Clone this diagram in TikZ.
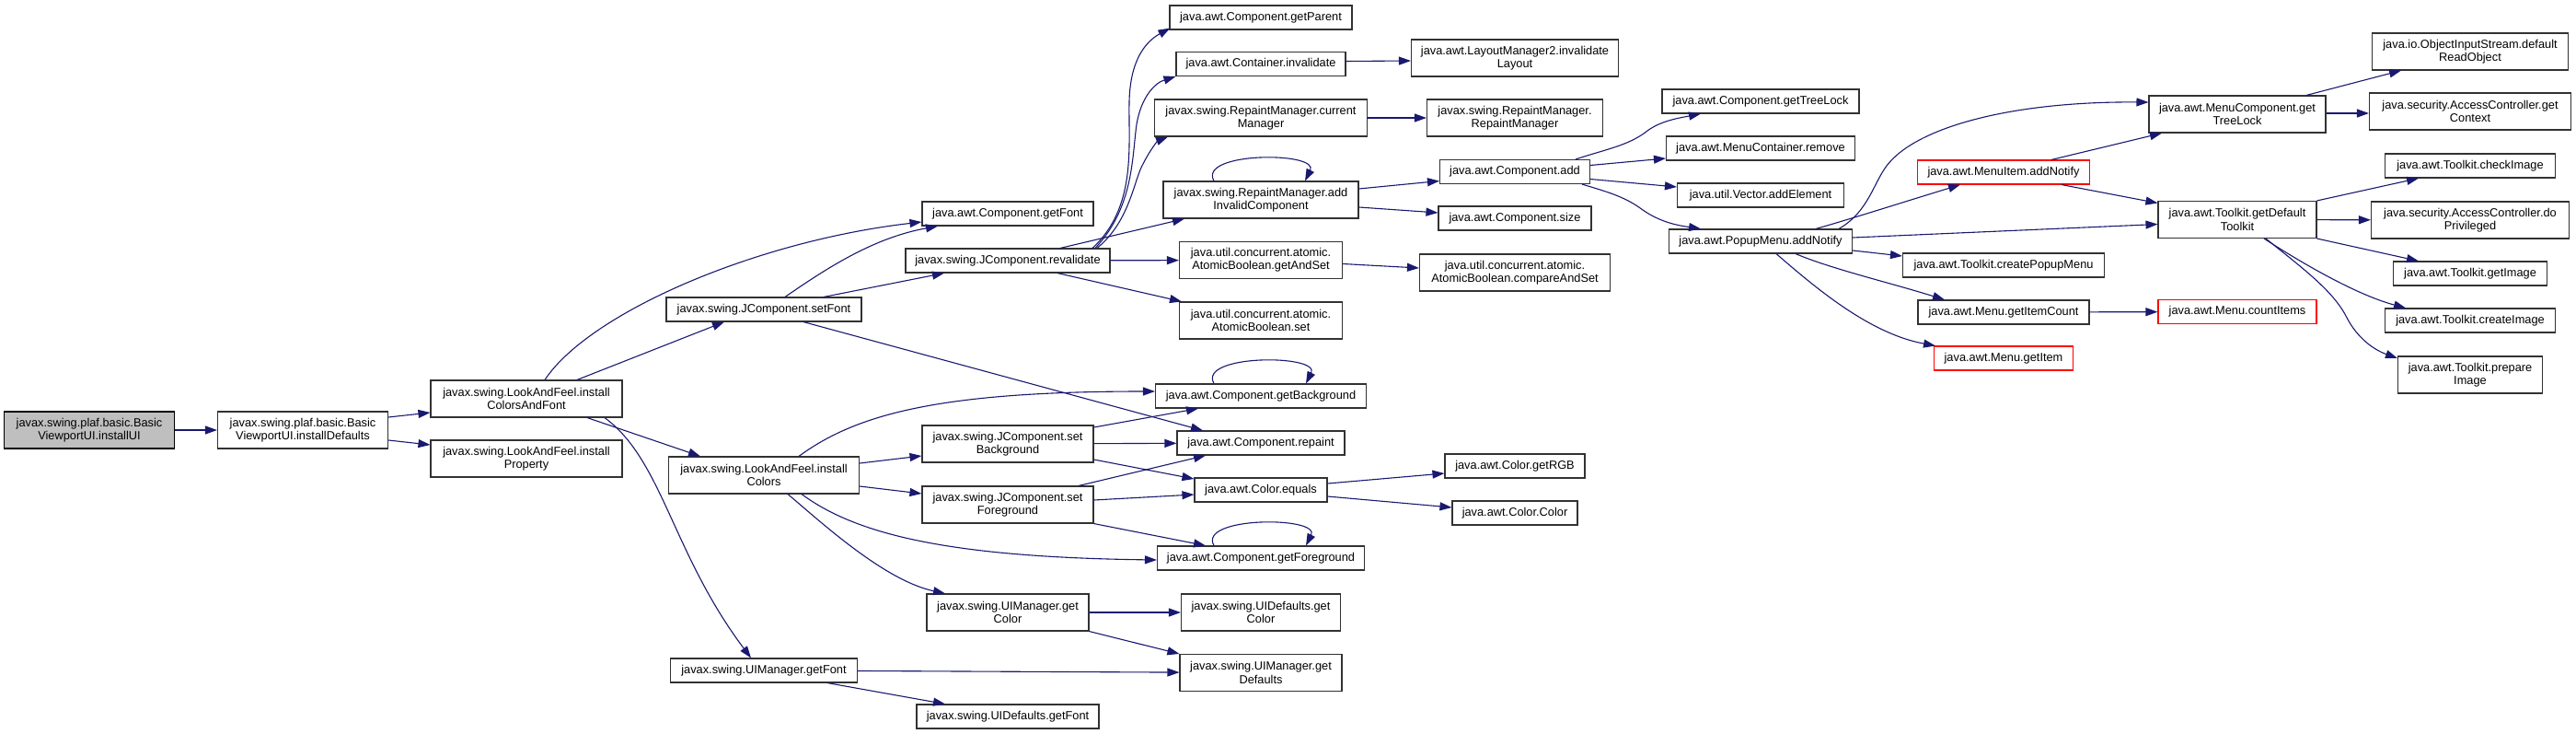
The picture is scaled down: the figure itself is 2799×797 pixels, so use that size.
\documentclass[tikz,border=0pt]{standalone}
\usepackage{fontspec}
\setmainfont{Liberation Sans}
\usetikzlibrary{arrows.meta}
\definecolor{edgeblue}{RGB}{25,25,112}
\definecolor{boxline}{RGB}{50,50,50}

\begin{document}
\begin{tikzpicture}[
  x=1pt, y=-1pt,
  font=\fontsize{12.8pt}{14.3pt}\selectfont,
  box/.style={rectangle, draw=boxline, line width=1.1pt, fill=white,
              minimum height=26pt, inner sep=0pt, align=center},
  tall/.style={minimum height=40pt},
  startbox/.style={fill=black!25, draw=black},
  redbox/.style={draw=red},
  arr/.style={-{Triangle[length=13pt,width=9pt]}, draw=edgeblue, line width=1.1pt}
]
  \useasboundingbox (0,0) rectangle (2799,797);

  \node[box, tall, startbox, minimum width=185pt] (installui) at (97,467) {javax.swing.plaf.basic.Basic\\ViewportUI.installUI};
  \node[box, tall, minimum width=185pt] (defaults) at (329,467) {javax.swing.plaf.basic.Basic\\ViewportUI.installDefaults};
  \node[box, tall, minimum width=208pt] (lafcf) at (572,433) {javax.swing.LookAndFeel.install\\ColorsAndFont};
  \node[box, tall, minimum width=208pt] (lafprop) at (572,498) {javax.swing.LookAndFeel.install\\Property};

  \node[box, minimum width=212pt] (setfont) at (830,336) {javax.swing.JComponent.setFont};
  \node[box, tall, minimum width=207pt] (lafcolors) at (830,516) {javax.swing.LookAndFeel.install\\Colors};
  \node[box, minimum width=203pt] (uimfont) at (830,728) {javax.swing.UIManager.getFont};

  \node[box, minimum width=186pt] (getfont) at (1095,232) {java.awt.Component.getFont};
  \node[box, minimum width=222pt] (revalidate) at (1095,283) {javax.swing.JComponent.revalidate};
  \node[box, tall, minimum width=186pt] (setbg) at (1095,482) {javax.swing.JComponent.set\\Background};
  \node[box, tall, minimum width=186pt] (setfg) at (1095,548) {javax.swing.JComponent.set\\Foreground};
  \node[box, tall, minimum width=176pt] (uimcolor) at (1095,665) {javax.swing.UIManager.get\\Color};
  \node[box, minimum width=198pt] (uidfont) at (1095,778) {javax.swing.UIDefaults.getFont};

  \node[box, minimum width=198pt] (getparent) at (1370,19) {java.awt.Component.getParent};
  \node[box, minimum width=184pt] (cinval) at (1370,69.5) {java.awt.Container.invalidate};
  \node[box, tall, minimum width=231pt] (curmgr) at (1370,128) {javax.swing.RepaintManager.current\\Manager};
  \node[box, tall, minimum width=212pt] (addinv) at (1370,217) {javax.swing.RepaintManager.add\\InvalidComponent};
  \node[box, tall, minimum width=177pt] (getandset) at (1370,282.5) {java.util.concurrent.atomic.\\AtomicBoolean.getAndSet};
  \node[box, tall, minimum width=177pt] (abset) at (1370,348) {java.util.concurrent.atomic.\\AtomicBoolean.set};
  \node[box, minimum width=229pt] (getbg) at (1370,430) {java.awt.Component.getBackground};
  \node[box, minimum width=182pt] (repaint) at (1370,481) {java.awt.Component.repaint};
  \node[box, minimum width=144pt] (cequals) at (1370,532) {java.awt.Color.equals};
  \node[box, minimum width=225pt] (getfg) at (1370,606) {java.awt.Component.getForeground};
  \node[box, tall, minimum width=173pt] (uidcolor) at (1370,665) {javax.swing.UIDefaults.get\\Color};
  \node[box, tall, minimum width=176pt] (uimdefaults) at (1370,730.5) {javax.swing.UIManager.get\\Defaults};

  \node[box, tall, minimum width=225pt] (lminval) at (1646,63) {java.awt.LayoutManager2.invalidate\\Layout};
  \node[box, tall, minimum width=191pt] (rmrm) at (1646,128) {javax.swing.RepaintManager.\\RepaintManager};
  \node[box, minimum width=163pt] (compadd) at (1646,186.5) {java.awt.Component.add};
  \node[box, minimum width=166pt] (compsize) at (1646,237) {java.awt.Component.size};
  \node[box, tall, minimum width=207pt] (cas) at (1646,296) {java.util.concurrent.atomic.\\AtomicBoolean.compareAndSet};
  \node[box, minimum width=152pt] (getrgb) at (1646,506) {java.awt.Color.getRGB};
  \node[box, minimum width=136pt] (colorctor) at (1646,557) {java.awt.Color.Color};

  \node[box, minimum width=214pt] (gettreelock) at (1913,110) {java.awt.Component.getTreeLock};
  \node[box, minimum width=205pt] (mcremove) at (1913,161) {java.awt.MenuContainer.remove};
  \node[box, minimum width=181pt] (addelement) at (1913,212) {java.util.Vector.addElement};
  \node[box, minimum width=199pt] (popupnotify) at (1913,262) {java.awt.PopupMenu.addNotify};

  \node[box, redbox, minimum width=187pt] (itemnotify) at (2177,187) {java.awt.MenuItem.addNotify};
  \node[box, minimum width=219pt] (createpopup) at (2177,288) {java.awt.Toolkit.createPopupMenu};
  \node[box, minimum width=186pt] (itemcount) at (2177,339) {java.awt.Menu.getItemCount};
  \node[box, redbox, minimum width=151pt] (getitem) at (2177,389) {java.awt.Menu.getItem};

  \node[box, tall, minimum width=192pt] (mctreelock) at (2431,124) {java.awt.MenuComponent.get\\TreeLock};
  \node[box, tall, minimum width=172pt] (deftoolkit) at (2431,238.5) {java.awt.Toolkit.getDefault\\Toolkit};
  \node[box, redbox, minimum width=172pt] (countitems) at (2431,338.5) {java.awt.Menu.countItems};

  \node[box, tall, minimum width=213pt] (readobject) at (2684,56) {java.io.ObjectInputStream.default\\ReadObject};
  \node[box, tall, minimum width=219pt] (getcontext) at (2684,121) {java.security.AccessController.get\\Context};
  \node[box, minimum width=185pt] (checkimage) at (2684,180) {java.awt.Toolkit.checkImage};
  \node[box, tall, minimum width=215pt] (doprivileged) at (2684,239) {java.security.AccessController.do\\Privileged};
  \node[box, minimum width=167pt] (getimage) at (2684,297) {java.awt.Toolkit.getImage};
  \node[box, minimum width=185pt] (createimage) at (2684,348) {java.awt.Toolkit.createImage};
  \node[box, tall, minimum width=157pt] (prepareimage) at (2684,407) {java.awt.Toolkit.prepare\\Image};

  \draw[arr] (installui) -- (defaults);
  \draw[arr] ([yshift=14pt]defaults.east) -- ([yshift=-15pt]lafcf.west);
  \draw[arr] ([yshift=-11pt]defaults.east) -- ([yshift=15pt]lafprop.west);
  \draw[arr] ([xshift=20pt]lafcf.north) .. controls (640,340) and (820,262) .. ([yshift=-9pt]getfont.west);
  \draw[arr] ([xshift=55pt]lafcf.north) -- ([xshift=-43pt]setfont.south);
  \draw[arr] ([xshift=66pt]lafcf.south) -- ([xshift=-69pt]lafcolors.north);
  \draw[arr] ([xshift=85pt]lafcf.south) .. controls (720,500) and (730,600) .. ([xshift=-14pt]uimfont.north);

  \draw[arr] ([xshift=23pt]setfont.north) .. controls (900,290) and (950,258) .. ([xshift=-76pt]getfont.south);
  \draw[arr] ([xshift=65pt]setfont.north) -- ([xshift=-69pt]revalidate.south);
  \draw[arr] ([xshift=43pt]setfont.south) -- ([xshift=-63pt]repaint.north);

  \draw[arr] ([xshift=92pt]revalidate.north) .. controls (1235,225) and (1226,160) .. (1227,110)
    .. controls (1228,65) and (1245,45) .. ([xshift=1pt,yshift=2pt]getparent.south west);
  \draw[arr] ([xshift=95pt]revalidate.north) .. controls (1232,225) and (1230,170) .. (1235,135)
    .. controls (1240,105) and (1255,90) .. (cinval.south west);
  \draw[arr] ([xshift=97pt]revalidate.north) .. controls (1228,240) and (1232,195) .. (1242,178)
    .. controls (1250,162) and (1258,153) .. ([xshift=-101pt]curmgr.south);
  \draw[arr] ([xshift=57pt]revalidate.north) -- ([xshift=-83pt]addinv.south);
  \draw[arr] (revalidate) -- (getandset);
  \draw[arr] ([xshift=54pt]revalidate.south) -- ([xshift=-86pt]abset.north);

  \draw[arr] ([xshift=-51pt]addinv.north) .. controls +(-18,-32) and +(16,-32) .. ([xshift=48pt]addinv.north);
  \draw[arr] ([yshift=12pt]addinv.east) -- ([yshift=-10pt]compadd.west);
  \draw[arr] ([yshift=-8pt]addinv.east) -- ([yshift=6pt]compsize.west);
  \draw[arr] (curmgr) -- (rmrm);
  \draw[arr] ([yshift=3pt]cinval.east) -- ([yshift=-3pt]lminval.west);
  \draw[arr] ([yshift=-4pt]getandset.east) -- ([yshift=5pt]cas.west);

  \draw[arr] ([xshift=66pt]compadd.north) .. controls (1745,162) and (1770,158) .. (1790,142)
    .. controls (1805,131) and (1825,128) .. ([xshift=-65pt]gettreelock.south);
  \draw[arr] ([yshift=7pt]compadd.east) -- ([yshift=-11pt]mcremove.west);
  \draw[arr] ([yshift=-8pt]compadd.east) -- ([yshift=9pt]addelement.west);
  \draw[arr] ([xshift=73pt]compadd.south) .. controls (1745,208) and (1765,213) .. (1785,228)
    .. controls (1805,242) and (1825,245) .. ([xshift=-65pt]popupnotify.north);

  \draw[arr] ([xshift=85pt]popupnotify.north) .. controls (2030,230) and (2035,200) .. (2050,180)
    .. controls (2080,140) and (2180,110) .. ([yshift=13pt]mctreelock.west);
  \draw[arr] ([xshift=60pt]popupnotify.north) .. controls (2010,238) and (2060,222) .. ([xshift=-47pt]itemnotify.south);
  \draw[arr] ([yshift=4pt]popupnotify.east) -- ([yshift=-5pt]deftoolkit.west);
  \draw[arr] ([yshift=-10pt]popupnotify.east) -- ([yshift=10pt]createpopup.west);
  \draw[arr] ([xshift=38pt]popupnotify.south) .. controls (1990,292) and (2050,306) .. ([xshift=-64pt]itemcount.north);
  \draw[arr] ([xshift=17pt]popupnotify.south) .. controls (1970,310) and (2030,362) .. ([xshift=-74pt]getitem.north);

  \draw[arr] ([xshift=52pt]itemnotify.north) -- ([xshift=-82pt]mctreelock.south);
  \draw[arr] ([xshift=63pt]itemnotify.south) -- ([yshift=18pt]deftoolkit.west);
  \draw[arr] (itemcount) -- (countitems);

  \draw[arr] ([xshift=75pt]mctreelock.north) -- ([xshift=-75pt]readobject.south);
  \draw[arr] ([yshift=1pt]mctreelock.east) -- ([yshift=-2pt]getcontext.west);
  \draw[arr] (deftoolkit.north east) -- ([xshift=-56pt]checkimage.south);
  \draw[arr] (deftoolkit) -- (doprivileged);
  \draw[arr] (deftoolkit.south east) -- ([xshift=-56pt]getimage.north);
  \draw[arr] ([xshift=29pt]deftoolkit.south) .. controls (2500,285) and (2560,320) .. ([xshift=-70pt]createimage.north);
  \draw[arr] ([xshift=31pt]deftoolkit.south) .. controls (2500,290) and (2535,315) .. (2550,345)
    .. controls (2562,368) and (2580,380) .. ([yshift=18pt]prepareimage.west);

  \draw[arr] ([xshift=38pt]lafcolors.north) .. controls (930,450) and (1020,425) .. ([yshift=5pt]getbg.west);
  \draw[arr] ([yshift=13pt]lafcolors.east) -- ([yshift=-13pt]setbg.west);
  \draw[arr] ([yshift=-12pt]lafcolors.east) -- ([yshift=12pt]setfg.west);
  \draw[arr] ([xshift=41pt]lafcolors.south) .. controls (930,580) and (1030,605) .. ([yshift=-2pt]getfg.west);
  \draw[arr] ([xshift=26pt]lafcolors.south) .. controls (890,565) and (960,630) .. ([xshift=-68pt]uimcolor.north);

  \draw[arr] ([yshift=18pt]setbg.east) -- ([xshift=-68pt]getbg.south);
  \draw[arr] (setbg) -- (repaint);
  \draw[arr] ([yshift=-17pt]setbg.east) -- ([yshift=12pt]cequals.west);
  \draw[arr] ([xshift=77pt]setfg.north) -- ([xshift=-60pt]repaint.south);
  \draw[arr] ([yshift=5pt]setfg.east) -- ([yshift=-5pt]cequals.west);
  \draw[arr] (setfg.south east) -- ([xshift=-60pt]getfg.north);

  \draw[arr] ([xshift=-51pt]getbg.north) .. controls +(-18,-32) and +(16,-32) .. ([xshift=49pt]getbg.north);
  \draw[arr] ([xshift=-51pt]getfg.north) .. controls +(-18,-32) and +(16,-32) .. ([xshift=49pt]getfg.north);
  \draw[arr] ([yshift=7pt]cequals.east) -- ([yshift=-8pt]getrgb.west);
  \draw[arr] ([yshift=-7pt]cequals.east) -- ([yshift=6pt]colorctor.west);

  \draw[arr] (uimcolor) -- (uidcolor);
  \draw[arr] (uimcolor.south east) -- (uimdefaults.north west);
  \draw[arr] (uimfont) -- (uimdefaults);
  \draw[arr] ([xshift=69pt]uimfont.south) -- ([xshift=-68pt]uidfont.north);
\end{tikzpicture}
\end{document}
